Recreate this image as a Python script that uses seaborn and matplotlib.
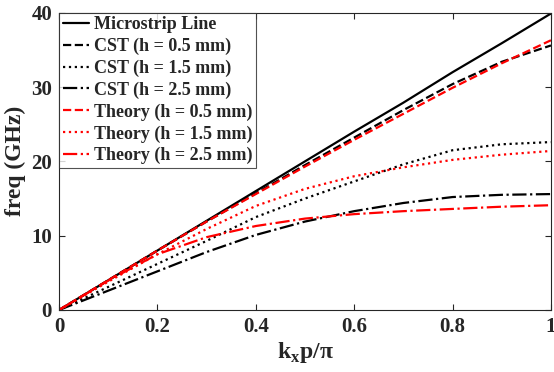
import numpy as np
import pandas as pd
import seaborn as sns
import matplotlib.pyplot as plt

# values
kx = [0, 0.1, 0.2, 0.3, 0.4, 0.5, 0.6, 0.7, 0.8, 0.9, 1.0]
microstrip = [0, 4.0, 8.0, 12.0, 16.0, 20.0, 24.0, 27.9, 32.0, 35.9, 39.9]
cst_05 = [0, 4.0, 8.0, 11.9, 15.7, 19.5, 23.2, 26.9, 30.4, 33.4, 35.6]
cst_15 = [0, 3.1, 6.2, 9.3, 12.5, 15.0, 17.3, 19.6, 21.5, 22.3, 22.6]
cst_25 = [0, 2.6, 5.2, 7.8, 10.1, 11.9, 13.3, 14.4, 15.2, 15.5, 15.6]
th_05 = [0, 4.0, 8.0, 11.9, 15.6, 19.3, 22.9, 26.4, 29.9, 33.2, 36.3]
th_15 = [0, 3.8, 7.5, 10.9, 14.0, 16.3, 18.0, 19.2, 20.2, 20.9, 21.4]
th_25 = [0, 3.95, 7.5, 9.8, 11.3, 12.3, 12.9, 13.3, 13.6, 13.9, 14.1]

labels = ['Microstrip Line', 'CST (h = 0.5 mm)', 'CST (h = 1.5 mm)', 'CST (h = 2.5 mm)',
          'Theory (h = 0.5 mm)', 'Theory (h = 1.5 mm)', 'Theory (h = 2.5 mm)']
series = [microstrip, cst_05, cst_15, cst_25, th_05, th_15, th_25]
colors = ['black', 'black', 'black', 'black', 'red', 'red', 'red']
styles = ['-', '--', ':', '-.', '--', ':', '-.']

sns.set_style("ticks")
plt.rcParams['font.family'] = ['Liberation Serif', 'DejaVu Serif']
plt.rcParams['font.weight'] = 'bold'
plt.rcParams['mathtext.fontset'] = 'custom'
plt.rcParams['mathtext.rm'] = 'Liberation Serif:bold'

fig = plt.figure(figsize=(5.54, 3.72), dpi=100)
ax = fig.add_axes([0.1065, 0.1667, 0.888, 0.799])

for lab, ys, c, ls in zip(labels, series, colors, styles):
    df = pd.DataFrame({'x': kx, 'y': ys})
    sns.lineplot(data=df, x='x', y='y', ax=ax, color=c, linestyle=ls, linewidth=1.6, label=lab)

ax.set_xlim(0, 1)
ax.set_ylim(0, 40)
ax.set_xticks([0, 0.2, 0.4, 0.6, 0.8, 1])
ax.set_xticklabels(['0', '0.2', '0.4', '0.6', '0.8', '1'])
ax.set_yticks([0, 10, 20, 30, 40])
ax.tick_params(direction='in', top=True, right=True, labelsize=15, colors='#262626',
               length=4, pad=5)
for s in ax.spines.values():
    s.set_color('#262626')
    s.set_linewidth(0.8)

ax.set_xlabel(r'k$_\mathregular{x}$p/π', fontsize=17, fontweight='bold', color='#262626',
              labelpad=2)
ax.set_ylabel('freq (GHz)', fontsize=17, fontweight='bold', color='#262626', labelpad=4)

leg = ax.legend(loc='upper left', fontsize=13, frameon=True, fancybox=False,
                handlelength=1.45, handletextpad=0.3, borderpad=0.2, labelspacing=0.25,
                borderaxespad=0.0)
leg.get_frame().set_edgecolor('#262626')
leg.get_frame().set_linewidth(0.8)
for t in leg.get_texts():
    t.set_fontweight('bold')

fig.savefig('out.png', dpi=100)
